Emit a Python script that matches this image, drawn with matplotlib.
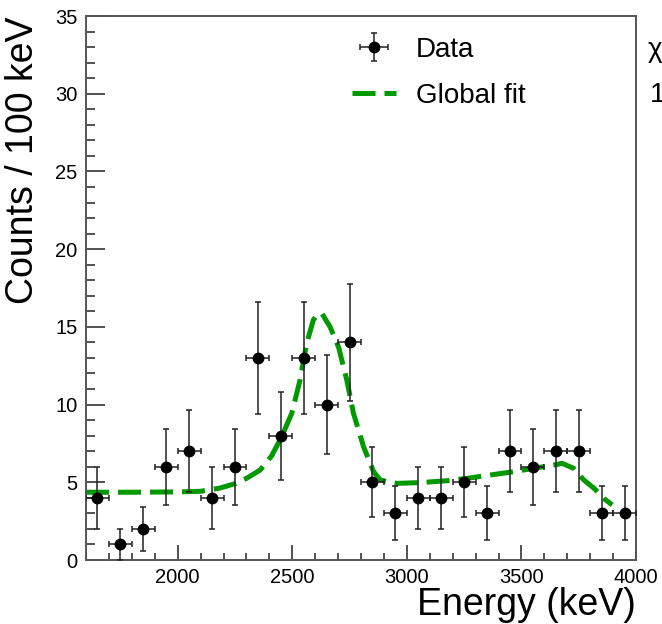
import matplotlib
matplotlib.use("Agg")
import matplotlib.pyplot as plt
from matplotlib.ticker import MultipleLocator

plt.rcParams['font.family'] = ['Liberation Sans', 'DejaVu Sans']

# ---- data ----
bin_centers = [1650, 1750, 1850, 1950, 2050, 2150, 2250, 2350, 2450, 2550, 2650, 2750,
               2850, 2950, 3050, 3150, 3250, 3350, 3450, 3550, 3650, 3750, 3850, 3950]
counts = [4, 1, 2, 6, 7, 4, 6, 13, 8, 13, 10, 14, 5, 3, 4, 4, 5, 3, 7, 6, 7, 7, 3, 3]
count_err = [2.0, 1.0, 1.41, 2.45, 2.65, 2.0, 2.45, 3.61, 2.83, 3.61, 3.16, 3.74,
             2.24, 1.73, 2.0, 2.0, 2.24, 1.73, 2.65, 2.45, 2.65, 2.65, 1.73, 1.73]
bin_half_width = [50] * len(bin_centers)

fit_x = [1600, 1700, 1800, 1900, 2000, 2100, 2185, 2254, 2300, 2360, 2410, 2454, 2498,
         2534, 2563, 2592, 2610, 2629, 2665, 2702, 2738, 2767, 2811, 2855, 2884, 2913,
         2957, 3059, 3175, 3262, 3364, 3466, 3553, 3641, 3677, 3728, 3772, 3817, 3859, 3896]
fit_y = [4.36, 4.36, 4.36, 4.37, 4.38, 4.42, 4.63, 4.93, 5.25, 5.79, 6.7, 7.94, 9.44,
         11.58, 13.94, 15.44, 15.8, 15.87, 15.0, 13.7, 11.58, 9.44, 7.29, 5.68, 5.15, 5.04,
         4.93, 4.98, 5.1, 5.25, 5.47, 5.68, 5.9, 6.11, 6.22, 5.9, 5.15, 4.61, 3.97, 3.54]

xticks_major = [2000, 2500, 3000, 3500, 4000]

fig = plt.figure(figsize=(6.62, 6.24), dpi=100)
ax = fig.add_axes([86 / 662, 1 - 560 / 624, 550 / 662, 544 / 624])

eb = ax.errorbar(bin_centers, counts, yerr=count_err, xerr=bin_half_width,
                 fmt='o', color='black', ecolor='#222222', elinewidth=1.1,
                 markersize=7.5, capsize=2.5, capthick=1.1, label='Data', zorder=3)
fl, = ax.plot(fit_x, fit_y, color='#009a00', lw=3.6, dashes=(4.6, 1.8),
              label='Global fit', zorder=2)

ax.set_xlim(1600, 4000)
ax.set_ylim(0, 35)
ax.set_xticks(xticks_major)
ax.xaxis.set_minor_locator(MultipleLocator(100))
ax.yaxis.set_major_locator(MultipleLocator(5))
ax.yaxis.set_minor_locator(MultipleLocator(1))

ax.tick_params(axis='both', which='both', direction='in', top=False, right=False,
               width=1.1, color='#222222', labelsize=14.5)
ax.tick_params(axis='y', which='major', length=14, pad=6)
ax.tick_params(axis='y', which='minor', length=6.5)
ax.tick_params(axis='x', which='major', length=11, pad=6)
ax.tick_params(axis='x', which='minor', length=5)

for s in ax.spines.values():
    s.set_linewidth(1.4)
    s.set_color('#555555')

ax.set_xlabel('Energy (keV)', fontsize=27, loc='right', labelpad=0)
ax.set_ylabel('Counts / 100 keV', fontsize=27, loc='top', labelpad=10)

leg = ax.legend(handles=[eb, fl], loc='upper left', bbox_to_anchor=(338 / 662, 1 - 23 / 624),
                bbox_transform=fig.transFigure, frameon=False, fontsize=20,
                handlelength=1.6, handletextpad=0.7, labelspacing=0.72, borderpad=0)

fig.text(648 / 662, 1 - 50 / 624, 'χ²/ndf', fontsize=20, va='center', ha='left')
fig.text(650 / 662, 1 - 95 / 624, '1', fontsize=20, va='center', ha='left')

fig.savefig('out.png', dpi=100)
